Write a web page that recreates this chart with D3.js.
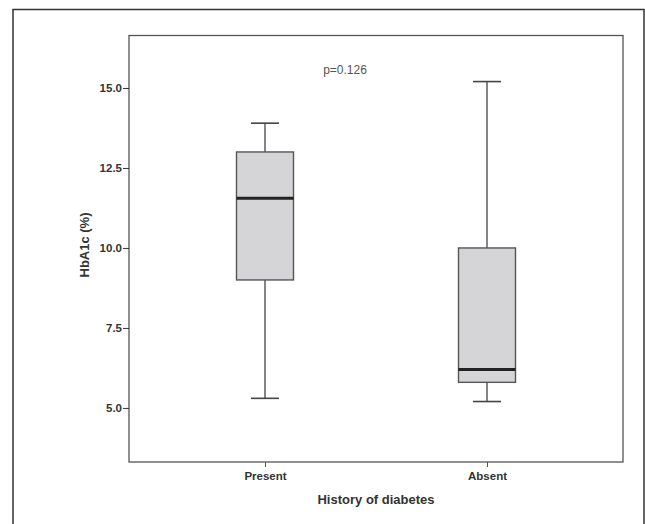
<!DOCTYPE html>
<html>
<head>
<meta charset="utf-8">
<script src="https://cdn.jsdelivr.net/npm/d3@7"></script>
<style>
  body { margin: 0; background: #fff; }
  text { font-family: "Liberation Sans", Arial, sans-serif; }
</style>
</head>
<body>
<div id="chart"></div>
<script>
// box plot values
const groups = ["Present", "Absent"];
const whiskerLow = [5.3, 5.2];
const q1 = [9.0, 5.8];
const median = [11.55, 6.2];
const q3 = [13.0, 10.0];
const whiskerHigh = [13.9, 15.2];
const yTicks = [5.0, 7.5, 10.0, 12.5, 15.0];

const W = 645, H = 524;
const plot = {left: 129, top: 35.5, right: 623, bottom: 462};

const svg = d3.select("#chart").append("svg").attr("width", W).attr("height", H);

// outer frame
svg.append("rect").attr("x", 13).attr("y", 9.5).attr("width", 631).attr("height", 530)
  .attr("fill", "none").attr("stroke", "#333").attr("stroke-width", 1.5);

const y = d3.scaleLinear().domain([3.31, 16.64]).range([plot.bottom, plot.top]);
const x = d3.scalePoint().domain(groups).range([265, 487]);

// inner plot box
svg.append("rect").attr("x", plot.left).attr("y", plot.top)
  .attr("width", plot.right - plot.left).attr("height", plot.bottom - plot.top)
  .attr("fill", "none").attr("stroke", "#555").attr("stroke-width", 1.3);

const yAxis = svg.append("g").attr("transform", `translate(${plot.left},0)`)
  .call(d3.axisLeft(y).tickValues(yTicks).tickFormat(d3.format(".1f")).tickSize(6).tickSizeOuter(0));
yAxis.select(".domain").remove();
yAxis.selectAll("line").attr("stroke", "#333");
yAxis.selectAll("text").attr("font-size", 11.5).attr("font-weight", "bold").attr("fill", "#333")
  .attr("x", -7);

const xAxis = svg.append("g").attr("transform", `translate(0,${plot.bottom})`)
  .call(d3.axisBottom(x).tickSize(5).tickSizeOuter(0));
xAxis.select(".domain").remove();
xAxis.selectAll("line").attr("stroke", "#555");
xAxis.selectAll("text").attr("font-size", 11.5).attr("font-weight", "bold").attr("fill", "#333")
  .attr("y", 10);

svg.append("text").attr("x", 376).attr("y", 504).attr("text-anchor", "middle")
  .attr("font-size", 13).attr("font-weight", "bold").attr("fill", "#333")
  .text("History of diabetes");

svg.append("text").attr("transform", "translate(89,245) rotate(-90)").attr("text-anchor", "middle")
  .attr("font-size", 13).attr("font-weight", "bold").attr("fill", "#333")
  .text("HbA1c (%)");

svg.append("text").attr("x", 345).attr("y", 74).attr("text-anchor", "middle")
  .attr("font-size", 12).attr("fill", "#555").text("p=0.126");

const boxW = 57, capW = 28;
const data = groups.map((g, i) => ({g, lo: whiskerLow[i], q1: q1[i], med: median[i], q3: q3[i], hi: whiskerHigh[i]}));

const b = svg.append("g").selectAll("g").data(data).join("g");

b.append("line").attr("x1", d => x(d.g)).attr("x2", d => x(d.g))
  .attr("y1", d => y(d.hi)).attr("y2", d => y(d.q3)).attr("stroke", "#444").attr("stroke-width", 1.3);
b.append("line").attr("x1", d => x(d.g)).attr("x2", d => x(d.g))
  .attr("y1", d => y(d.q1)).attr("y2", d => y(d.lo)).attr("stroke", "#444").attr("stroke-width", 1.3);
b.append("line").attr("x1", d => x(d.g) - capW / 2).attr("x2", d => x(d.g) + capW / 2)
  .attr("y1", d => y(d.hi)).attr("y2", d => y(d.hi)).attr("stroke", "#444").attr("stroke-width", 1.6);
b.append("line").attr("x1", d => x(d.g) - capW / 2).attr("x2", d => x(d.g) + capW / 2)
  .attr("y1", d => y(d.lo)).attr("y2", d => y(d.lo)).attr("stroke", "#444").attr("stroke-width", 1.6);

b.append("rect").attr("x", d => x(d.g) - boxW / 2).attr("width", boxW)
  .attr("y", d => y(d.q3)).attr("height", d => y(d.q1) - y(d.q3))
  .attr("fill", "#d5d5d7").attr("stroke", "#555").attr("stroke-width", 1.4);

b.append("line").attr("x1", d => x(d.g) - boxW / 2).attr("x2", d => x(d.g) + boxW / 2)
  .attr("y1", d => y(d.med)).attr("y2", d => y(d.med)).attr("stroke", "#222").attr("stroke-width", 3);
</script>
</body>
</html>
